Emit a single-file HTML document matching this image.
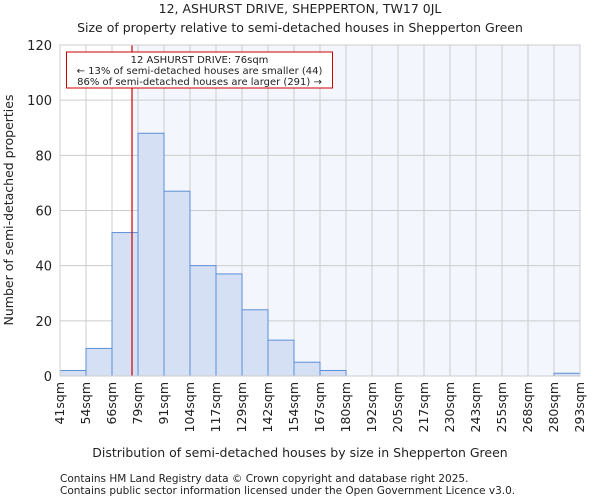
<!DOCTYPE html>
<html><head><meta charset="utf-8"><style>
body{margin:0;background:#fff;font-family:"DejaVu Sans","Liberation Sans",sans-serif}
svg text{font-family:"DejaVu Sans","Liberation Sans",sans-serif;fill:#222}
</style></head><body>
<svg id="c" width="600" height="500">
<text x="300" y="13" text-anchor="middle" font-size="12.5">12, ASHURST DRIVE, SHEPPERTON, TW17 0JL</text>
<text x="300" y="32" text-anchor="middle" font-size="12.5">Size of property relative to semi-detached houses in Shepperton Green</text>
<g id="plot"></g>
<text x="300" y="457" text-anchor="middle" font-size="12.5">Distribution of semi-detached houses by size in Shepperton Green</text>
<text x="13" y="210" text-anchor="middle" font-size="12.5" transform="rotate(-90 13 210)">Number of semi-detached properties</text>
<text x="60" y="482" font-size="10.5" fill="#444">Contains HM Land Registry data © Crown copyright and database right 2025.</text>
<text x="60" y="494" font-size="10.5" fill="#444">Contains public sector information licensed under the Open Government Licence v3.0.</text>
</svg>
<script>
const categories=["41sqm","54sqm","66sqm","79sqm","91sqm","104sqm","117sqm","129sqm","142sqm","154sqm","167sqm","180sqm","192sqm","205sqm","217sqm","230sqm","243sqm","255sqm","268sqm","280sqm","293sqm"];
const counts=[2,10,52,88,67,40,37,24,13,5,2,0,0,0,0,0,0,0,0,1];
const yTicks=[0,20,40,60,80,100,120];
const binEdges=[41,54,66,79,91,104,117,129,142,154,167,180,192,205,217,230,243,255,268,280,293];
const subjectSize=76;
const annotation=["12 ASHURST DRIVE: 76sqm","← 13% of semi-detached houses are smaller (44)","86% of semi-detached houses are larger (291) →"];
const X0=60,X1=580,Y0=376,Y1=45,YMAX=120;
const NS="http://www.w3.org/2000/svg";
const g=document.getElementById('plot');
const bw=(X1-X0)/counts.length;
const xi=i=>X0+i*bw;
const y=v=>Y0-(v/YMAX)*(Y0-Y1);
function xv(v){let i=0;while(i<binEdges.length-2&&v>binEdges[i+1])i++;return xi(i)+(v-binEdges[i])/(binEdges[i+1]-binEdges[i])*bw;}
function el(t,a){const e=document.createElementNS(NS,t);for(const k in a)e.setAttribute(k,a[k]);g.appendChild(e);return e;}
const rx=xv(subjectSize);
let e=el('rect',{x:X0,y:Y1,width:X1-X0,height:Y0-Y1,fill:'#fff'});


e=el('rect',{x:rx,y:Y1,width:X1-rx,height:Y0-Y1,fill:'#f3f6fd'});


yTicks.forEach(t=>{
 e=el('line',{x1:X0,x2:X1,y1:y(t),y2:y(t),stroke:'#cccccc','stroke-width':1});
 
 
 e=el('text',{x:X0-8,y:y(t)+5,'text-anchor':'end','font-size':13});
 e.textContent=t;
 
 
});
categories.forEach((c,i)=>{
 e=el('line',{x1:xi(i),x2:xi(i),y1:Y1,y2:Y0,stroke:'#cccccc','stroke-width':1});
 
 
 const tx=xi(i)+4,ty=Y0+6;
 e=el('text',{x:tx,y:ty,'text-anchor':'end','font-size':12.5,transform:`rotate(-90 ${tx} ${ty})`});
 e.textContent=c;
 
 
});
counts.forEach((v,i)=>{
 e=el('rect',{x:xi(i),y:y(v),width:bw,height:Y0-y(v),fill:'#d6e0f4',stroke:'#5b8fd6','stroke-width':1});
 
 
});
e=el('line',{x1:rx,x2:rx,y1:Y1,y2:Y0,stroke:'#cc0000','stroke-width':1.2});


e=el('rect',{x:66.5,y:52,width:266,height:36,fill:'#fff',stroke:'#cc0000','stroke-width':1});


annotation.forEach((s,i)=>{
 e=el('text',{x:199.5,y:63+i*11,'text-anchor':'middle','font-size':10});
 e.textContent=s;
 
 
});
e=el('rect',{x:X0,y:Y1,width:X1-X0,height:Y0-Y1,fill:'none',stroke:'#cccccc'});


</script>
</body></html>
